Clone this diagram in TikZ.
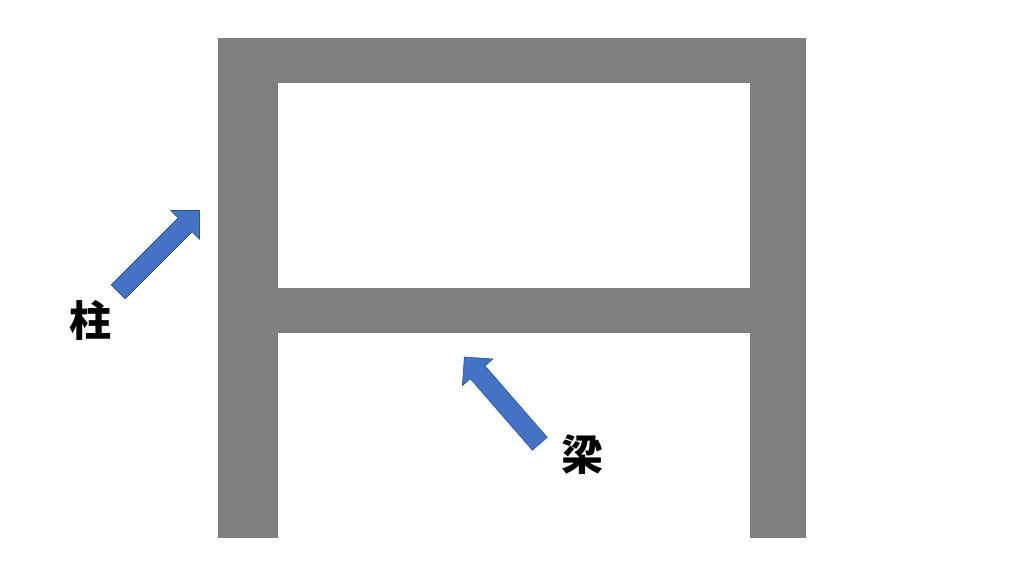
\documentclass[tikz,border=0pt]{standalone}
\usepackage{fontspec}
\usepackage{xcolor}
\usepackage{tikz}
\usetikzlibrary{shapes.arrows,positioning}
\newfontfamily\jpfont{Noto Sans CJK JP}
\definecolor{framegray}{HTML}{7F7F7F}
\definecolor{arrowblue}{HTML}{4472C4}
\definecolor{arrowedge}{HTML}{2F528F}

\begin{document}
\begin{tikzpicture}[x=1pt, y=-1pt,
    member/.style={fill=framegray, draw=none},
    blockarrow/.style={single arrow, draw=arrowedge, fill=arrowblue, line width=0.6pt,
        minimum height=115pt, minimum width=40pt, inner sep=9.5pt,
        single arrow head extend=10.5pt, anchor=tail},
    kanji/.style={font=\jpfont\bfseries\fontsize{42}{50}\selectfont, text=black, inner sep=0pt}]
                        \useasboundingbox (0,0) rectangle (1024,576);
                        % frame
                        \fill[member] (218,38) rectangle (806,83);
                        \fill[member] (218,83) rectangle (278,538);
                        \fill[member] (750,83) rectangle (806,538);
                        \fill[member] (278,288) rectangle (750,333);
                        % labels and arrows
                        \node[kanji] (hashira) at (90,320) {柱};
                        \node[kanji] (hari) at (582,455) {梁};
                        \node[blockarrow, rotate=45] (hashiraArrow) at (118,292) {};
                        \node[blockarrow, rotate=131] (hariArrow) at (540,444) {};
                        \end{tikzpicture}
\end{document}
